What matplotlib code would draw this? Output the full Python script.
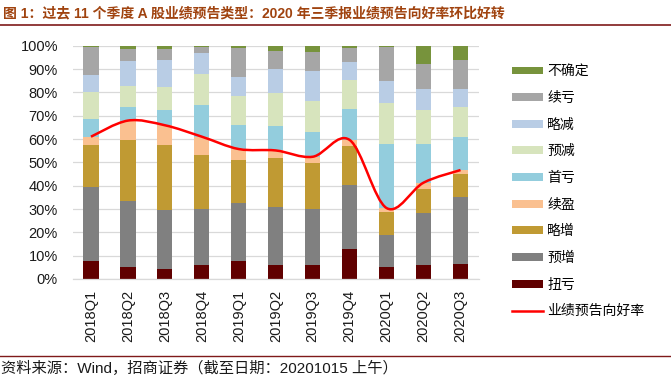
import matplotlib
matplotlib.use('Agg')
import matplotlib.pyplot as plt
from matplotlib.path import Path
from matplotlib.patches import PathPatch, Patch
from matplotlib.lines import Line2D
import numpy as np

quarters = ['2018Q1', '2018Q2', '2018Q3', '2018Q4', '2019Q1', '2019Q2',
            '2019Q3', '2019Q4', '2020Q1', '2020Q2', '2020Q3']

niukui   = [7.7, 5.1, 4.3, 6.0, 7.7, 6.0, 6.0, 12.9, 5.1, 6.0, 6.4]     # 扭亏
yuzeng   = [31.7, 28.3, 25.3, 24.0, 24.9, 24.9, 24.0, 27.4, 13.8, 22.3, 28.7]  # 预增
lvezeng  = [18.0, 26.2, 27.8, 23.1, 18.4, 21.0, 19.7, 16.7, 9.8, 10.3, 9.9]   # 略增
xuying   = [3.6, 8.3, 8.5, 7.9, 4.7, 3.2, 2.7, 2.6, 1.7, 2.7, 1.7]          # 续盈
shoukui  = [7.6, 6.0, 6.5, 13.6, 10.3, 10.5, 10.6, 13.3, 27.5, 16.6, 14.2]  # 首亏
yujian   = [11.4, 8.8, 10.0, 13.1, 12.4, 14.1, 13.3, 12.4, 17.5, 14.5, 12.8]  # 预减
lvejian  = [7.4, 10.7, 11.5, 9.2, 8.2, 10.4, 12.8, 7.7, 9.5, 9.0, 7.7]      # 略减
xukui    = [12.0, 5.3, 4.7, 2.4, 12.5, 7.8, 8.2, 6.0, 14.7, 10.7, 12.5]     # 续亏
buqueding = [0.6, 1.3, 1.4, 0.7, 0.9, 2.1, 2.7, 1.0, 0.4, 7.9, 6.1]        # 不确定

haolv = [61.0, 67.9, 65.9, 61.0, 55.7, 55.1, 52.4, 59.6, 30.4, 41.3, 46.7]  # 业绩预告向好率

series = [
    ('扭亏', niukui, '#600000'),
    ('预增', yuzeng, '#808080'),
    ('略增', lvezeng, '#C09A33'),
    ('续盈', xuying, '#FAC090'),
    ('首亏', shoukui, '#93CDDD'),
    ('预减', yujian, '#D7E4BD'),
    ('略减', lvejian, '#B9CDE5'),
    ('续亏', xukui, '#A6A6A6'),
    ('不确定', buqueding, '#77933C'),
]
line_label = '业绩预告向好率'

W, H = 671, 382
fig = plt.figure(figsize=(W / 100, H / 100), dpi=100)
ax = fig.add_axes([72.5 / W, 1 - 279 / H, (479 - 72.5) / W, (279 - 45.7) / H])

x = np.arange(len(quarters))
bottom = np.zeros(len(quarters))
for name, vals, color in series:
    vals = np.array(vals)
    ax.bar(x, vals, width=0.41, bottom=bottom, color=color, zorder=2, linewidth=0)
    bottom += vals

# smoothed line (Bezier through data points, like Excel smoothing)
pts = np.column_stack([x, haolv]).astype(float)
n = len(pts)
verts = [pts[0]]
codes = [Path.MOVETO]
for i in range(n - 1):
    p0 = pts[i - 1] if i > 0 else pts[i]
    p1 = pts[i]
    p2 = pts[i + 1]
    p3 = pts[i + 2] if i + 2 < n else pts[i + 1]
    c1 = p1 + (p2 - p0) / 6
    c2 = p2 - (p3 - p1) / 6
    verts += [c1, c2, p2]
    codes += [Path.CURVE4] * 3
ax.add_patch(PathPatch(Path(verts, codes), fill=False, edgecolor='#FF0000', lw=1.8, zorder=3))

ax.set_xlim(-0.5, len(quarters) - 0.5)
ax.set_ylim(0, 100)
ax.set_yticks(np.arange(0, 101, 10))
ax.set_yticklabels([f'{v}%' for v in range(0, 101, 10)])
ax.set_xticks(x)
ax.set_xticklabels(quarters, rotation=90)
for lab in ax.get_yticklabels() + ax.get_xticklabels():
    lab.set_fontfamily(['Liberation Sans', 'Noto Sans CJK SC'])
    lab.set_fontsize(10.5)
    lab.set_color('#1a1a1a')
ax.tick_params(axis='both', length=0)
ax.tick_params(axis='y', pad=10.5)
ax.tick_params(axis='x', pad=8)
for s in ['left', 'right', 'top']:
    ax.spines[s].set_visible(False)
ax.spines['bottom'].set_color('#D9D9D9')
ax.spines['bottom'].set_linewidth(0.9)
ax.yaxis.grid(True, color='#D9D9D9', lw=0.9)
ax.set_axisbelow(True)

handles = [Patch(facecolor=c, edgecolor='none') for _, _, c in series[::-1]]
labels = [nm for nm, _, _ in series[::-1]]
handles.append(Line2D([], [], color='#FF0000', lw=1.8))
labels.append(line_label)
leg = fig.legend(handles, labels, loc='upper left', bbox_to_anchor=(505 / W, 1 - 57.5 / H),
                 frameon=False, borderpad=0, handlelength=2.25, handleheight=0.5,
                 handletextpad=0.3, labelspacing=0.91,
                 prop={'family': ['Noto Sans CJK SC', 'DejaVu Sans'], 'size': 10})

title = '图 1：过去 11 个季度 A 股业绩预告类型：2020 年三季报业绩预告向好率环比好转'
fig.text(3 / W, 1 - 13 / H, title, fontsize=10, fontweight='bold', color='#A0430F',
         va='center', ha='left', family=['Liberation Sans', 'Noto Sans CJK SC'])
fig.add_artist(Line2D([0, 1], [1 - 24.5 / H] * 2, transform=fig.transFigure,
                      color='#7F1A1A', lw=1.2))
fig.add_artist(Line2D([0, 1], [1 - 355.5 / H] * 2, transform=fig.transFigure,
                      color='#7F1A1A', lw=1.0))
fig.text(1 / W, 1 - 368.5 / H, '资料来源：Wind，招商证券（截至日期：20201015 上午）',
         fontsize=11, color='#1a1a1a', va='center', ha='left',
         family=['Liberation Sans', 'Noto Sans CJK SC'])

fig.savefig('out.png', dpi=100)
